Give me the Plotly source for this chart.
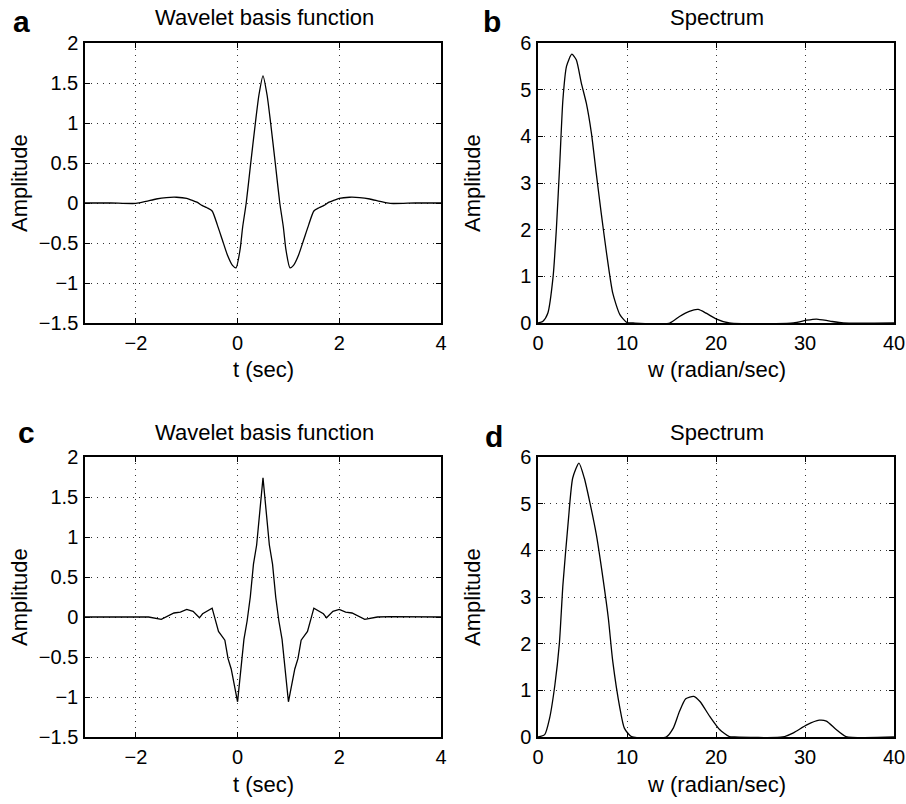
import plotly.graph_objects as go

# ---------------- data ----------------
# Panel a: smooth wavelet basis function
t_a = [-3.0, -2.5, -2.0, -1.8, -1.6, -1.4, -1.2, -1.0, -0.9, -0.8, -0.7, -0.6, -0.5,
       -0.4, -0.3, -0.2, -0.1, -0.03, 0.05, 0.1, 0.17, 0.25, 0.35, 0.42, 0.5,
       0.58, 0.65, 0.75, 0.83, 0.9, 0.95, 1.03, 1.1, 1.2, 1.3, 1.4, 1.5, 1.6,
       1.7, 1.8, 1.9, 2.0, 2.2, 2.4, 2.6, 2.8, 3.0, 3.5, 4.0]
amp_a = [0.0, 0.0, -0.005, 0.02, 0.05, 0.068, 0.072, 0.058, 0.035, 0.01, -0.03, -0.06, -0.10,
         -0.27, -0.46, -0.65, -0.78, -0.81, -0.58, -0.30, 0.0, 0.45, 1.0, 1.35, 1.59,
         1.35, 1.0, 0.45, 0.0, -0.30, -0.58, -0.81, -0.78, -0.65, -0.46, -0.27, -0.10, -0.06,
         -0.03, 0.01, 0.035, 0.058, 0.072, 0.068, 0.05, 0.02, -0.005, 0.0, 0.0]

# Panel b: spectrum of wavelet a
w_b = [0.0, 0.56, 1.1, 1.7, 2.06, 2.43, 2.8, 3.2, 3.8, 4.3, 4.87, 5.43, 6.0, 6.55, 7.1,
       7.7, 8.4, 9.2, 10.0, 10.7, 14.8, 15.9, 17.0, 18.0, 18.9, 20.0, 21.5, 28.7, 30.2,
       31.3, 32.8, 34.3, 40.0]
amp_b = [0.0, 0.04, 0.21, 1.0, 2.0, 3.36, 4.79, 5.5, 5.76, 5.64, 5.14, 4.71, 4.07, 3.2, 2.36,
         1.5, 0.64, 0.18, 0.01, 0.0, 0.0, 0.14, 0.25, 0.29, 0.21, 0.09, 0.0, 0.0, 0.06,
         0.085, 0.04, 0.0, 0.0]

# Panel c: sampled wavelet basis function
t_c = [-3.0, -2.5, -2.0, -1.75, -1.5, -1.25, -1.125, -1.0, -0.875, -0.75, -0.6875, -0.5,
       -0.375, -0.25, -0.1875, -0.125, 0.0, 0.125, 0.1875, 0.25, 0.3125, 0.375, 0.5,
       0.625, 0.6875, 0.75, 0.8125, 0.875, 1.0, 1.125, 1.1875, 1.25, 1.375, 1.5,
       1.6875, 1.75, 1.875, 2.0, 2.125, 2.25, 2.5, 2.75, 3.0, 3.5, 4.0]
amp_c = [0.0, 0.0, 0.005, 0.0, -0.03, 0.05, 0.06, 0.095, 0.07, -0.01, 0.04, 0.11,
         -0.18, -0.29, -0.52, -0.65, -1.06, -0.28, -0.05, 0.25, 0.66, 0.90, 1.74,
         0.90, 0.66, 0.25, -0.05, -0.28, -1.06, -0.65, -0.52, -0.29, -0.18, 0.11,
         0.04, -0.01, 0.07, 0.095, 0.06, 0.05, -0.03, 0.0, 0.005, 0.0, 0.0]

# Panel d: spectrum of wavelet c
w_d = [0.0, 0.75, 1.3, 1.9, 2.4, 2.8, 3.4, 3.9, 4.6, 5.2, 5.8, 6.55, 7.3, 7.9, 8.4, 9.2,
       9.7, 10.5, 14.4, 15.2, 15.9, 16.6, 17.5, 18.2, 19.3, 20.4, 21.5, 22.1, 27.5,
       28.7, 30.2, 31.6, 32.4, 33.5, 34.6, 40.0]
amp_d = [0.0, 0.05, 0.4, 1.12, 2.0, 3.26, 4.62, 5.55, 5.87, 5.55, 5.05, 4.34, 3.4, 2.55,
         1.62, 0.62, 0.19, 0.01, 0.0, 0.19, 0.55, 0.82, 0.87, 0.76, 0.44, 0.16, 0.01, 0.0,
         0.0, 0.09, 0.26, 0.36, 0.34, 0.16, 0.01, 0.0]

t_ticks = [-2, 0, 2, 4]
t_ticktext = ["\u22122", "0", "2", "4"]
a_ticks = [-1.5, -1, -0.5, 0, 0.5, 1, 1.5, 2]
a_ticktext = ["\u22121.5", "\u22121", "\u22120.5", "0", "0.5", "1", "1.5", "2"]
w_ticks = [0, 10, 20, 30, 40]
w_ticktext = ["0", "10", "20", "30", "40"]
s_ticks = [0, 1, 2, 3, 4, 5, 6]
s_ticktext = ["0", "1", "2", "3", "4", "5", "6"]

panel_letters = ["a", "b", "c", "d"]
panel_titles = ["Wavelet basis function", "Spectrum", "Wavelet basis function", "Spectrum"]
x_titles = ["t (sec)", "w (radian/sec)", "t (sec)", "w (radian/sec)"]
y_title = "Amplitude"

# ---------------- layout geometry ----------------
W, H = 906, 804
FONT = "Liberation Sans, Arial, Helvetica, sans-serif"

def px(x):
    return x / W

def py(y):
    return 1 - y / H

col_dom = [(85, 441), (538, 894)]
row_dom = [(43, 323), (457, 737)]

fig = go.Figure()

panels = [
    (t_a, amp_a, "spline", 0, 0, [-3, 4], t_ticks, t_ticktext, [-1.5, 2], a_ticks, a_ticktext),
    (w_b, amp_b, "spline", 0, 1, [0, 40], w_ticks, w_ticktext, [0, 6], s_ticks, s_ticktext),
    (t_c, amp_c, "linear", 1, 0, [-3, 4], t_ticks, t_ticktext, [-1.5, 2], a_ticks, a_ticktext),
    (w_d, amp_d, "spline", 1, 1, [0, 40], w_ticks, w_ticktext, [0, 6], s_ticks, s_ticktext),
]

annotations = []
for i, (xs, ys, shape, r, c, xr, xt, xtt, yr, yt, ytt) in enumerate(panels):
    n = "" if i == 0 else str(i + 1)
    line = dict(color="black", width=1.3, shape=shape)
    if shape == "spline":
        line["smoothing"] = 0.6
    fig.add_trace(go.Scatter(x=xs, y=ys, mode="lines", line=line,
                             xaxis="x" + n, yaxis="y" + n, showlegend=False,
                             hoverinfo="skip"))
    x0, x1 = col_dom[c]
    y0, y1 = row_dom[r]
    common = dict(showline=True, linecolor="black", linewidth=1.5, mirror="ticks",
                  ticks="inside", ticklen=5, tickcolor="black", tickwidth=1,
                  showgrid=True, gridcolor="#333333", gridwidth=1, griddash="1px,5px",
                  zeroline=False, automargin=False,
                  tickfont=dict(family=FONT, size=20, color="black"))
    fig.layout["xaxis" + n] = dict(common, domain=[px(x0), px(x1)], range=xr,
                                   tickmode="array", tickvals=xt, ticktext=xtt,
                                   anchor="y" + n, ticklabelstandoff=1)
    fig.layout["yaxis" + n] = dict(common, domain=[py(y1), py(y0)], range=yr,
                                   tickmode="array", tickvals=yt, ticktext=ytt,
                                   anchor="x" + n, ticklabelstandoff=1)
    cx = (x0 + x1) / 2
    # subplot title
    annotations.append(dict(text=panel_titles[i], xref="paper", yref="paper",
                            x=px(cx + 1), y=py(y0 - 25), xanchor="center", yanchor="middle",
                            showarrow=False, font=dict(family=FONT, size=22, color="black")))
    # x axis title
    annotations.append(dict(text=x_titles[i], xref="paper", yref="paper",
                            x=px(cx), y=py(y1 + 47), xanchor="center", yanchor="middle",
                            showarrow=False, font=dict(family=FONT, size=22, color="black")))
    # y axis title
    annotations.append(dict(text=y_title, xref="paper", yref="paper",
                            x=px(x0 - 66), y=py((y0 + y1) / 2), xanchor="center",
                            yanchor="middle", textangle=-90,
                            showarrow=False, font=dict(family=FONT, size=22, color="black")))

letter_pos = [(21, 21), (492, 21), (26, 432), (494, 436)]
for L, (lx, ly) in zip(panel_letters, letter_pos):
    annotations.append(dict(text="<b>" + L + "</b>", xref="paper", yref="paper",
                            x=px(lx), y=py(ly), xanchor="center", yanchor="middle",
                            showarrow=False, font=dict(family=FONT, size=30, color="black")))

fig.update_layout(width=W, height=H, margin=dict(l=0, r=0, t=0, b=0),
                  template="none", paper_bgcolor="white", plot_bgcolor="white",
                  annotations=annotations, showlegend=False,
                  font=dict(family=FONT, color="black"))

fig.write_html("out.html", config={"displayModeBar": False},
               post_script="document.body.style.margin='0px';document.body.style.overflow='hidden';")
